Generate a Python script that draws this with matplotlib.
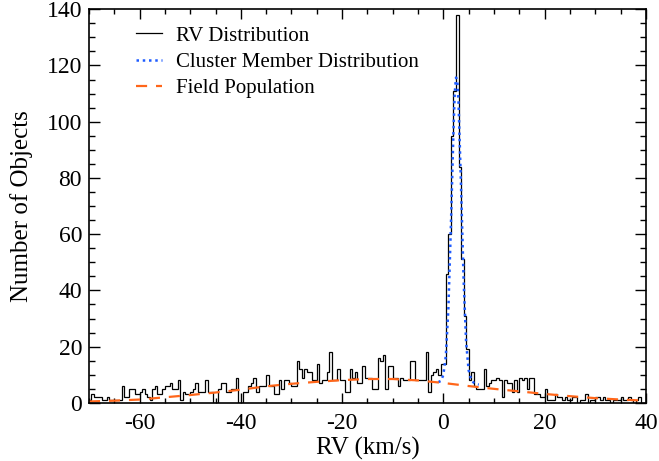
import numpy as np
import matplotlib
matplotlib.use('Agg')
import matplotlib.pyplot as plt
from matplotlib.ticker import MultipleLocator

plt.rcParams['font.family'] = ['Liberation Serif', 'DejaVu Serif']
plt.rcParams['axes.unicode_minus'] = False

# histogram: 0.5 km/s bins from -70 to 40
bin_lo, bin_hi, bin_w = -70.0, 40.0, 0.5
counts = [
    1, 3, 2, 2, 2, 1, 1, 2, 1, 1,        # -70 .. -65
    1, 1, 1, 6, 2, 2, 5, 5, 3, 3,        # -65 .. -60
    4, 5, 3, 2, 1, 5, 6, 3, 3, 5,        # -60 .. -55
    6, 6, 7, 5, 5, 8, 1, 4, 3, 3,        # -55 .. -50
    4, 5, 7, 4, 4, 4, 8, 4, 4, 0,        # -50 .. -45
    0, 5, 7, 7, 4, 4, 5, 5, 9, 0,        # -45 .. -40
    0, 4, 4, 6, 7, 9, 4, 6, 6, 6,        # -40 .. -35
    10, 6, 6, 3, 3, 8, 5, 8, 8, 7,       # -35 .. -30
    6, 6, 15, 12, 9, 12, 11, 11, 8, 8,   # -30 .. -25
    14, 7, 8, 8, 11, 18, 8, 8, 12, 8,    # -25 .. -20
    8, 4, 4, 12, 9, 11, 7, 7, 13, 9,     # -20 .. -15
    9, 9, 5, 5, 16, 15, 17, 5, 13, 13,   # -15 .. -10
    9, 9, 6, 9, 8, 8, 8, 15, 15, 8,      # -10 .. -5
    8, 8, 8, 18, 4, 10, 11, 12, 10, 14,  # -5 .. 0
    14, 46, 60, 95, 111, 138, 84, 51, 31, 19,  # 0 .. 5
    8, 11, 6, 5, 5, 5, 12, 6, 7, 8,      # 5 .. 10
    8, 9, 8, 2, 8, 7, 7, 4, 8, 4,        # 10 .. 15
    9, 8, 9, 5, 9, 9, 3, 3, 2, 2,        # 15 .. 20
    5, 1, 1, 1, 3, 2, 2, 1, 2, 1,        # 20 .. 25
    1, 2, 2, 0, 1, 1, 3, 0, 1, 1,        # 25 .. 30
    2, 2, 1, 2, 1, 1, 0, 1, 1, 1,        # 30 .. 35
    2, 1, 1, 2, 1, 0, 1, 2, 0, 0,        # 35 .. 40
]

# cluster member curve
clus_rv = [-1.0, -0.5, 0.0, 0.5, 1.0, 1.5, 2.0, 2.25, 2.5, 2.75, 3.0, 3.5, 4.0, 4.5, 5.0, 5.5, 6.0, 6.5, 7.0]
clus_n = [7.4, 7.8, 9.9, 16.8, 33.7, 63.1, 96.6, 110.0, 115.7, 115.0, 107.0, 76.9, 44.1, 21.6, 11.6, 8.2, 7.2, 6.7, 6.5]

# field population curve
field_rv = [-70, -65, -60, -55, -50, -45, -40, -35, -30, -25, -20, -15, -10, -5, 0, 5, 10, 15, 20, 25, 30, 35, 40]
field_n = [0.5, 0.8, 1.2, 2.0, 2.8, 3.7, 4.7, 5.9, 6.8, 7.5, 8.1, 8.5, 8.5, 8.0, 7.1, 6.0, 5.0, 4.1, 3.2, 2.4, 1.7, 1.2, 0.8]

edges = np.arange(bin_lo, bin_hi + bin_w / 2, bin_w)

fig = plt.figure(figsize=(6.59, 4.61), dpi=100)
ax = fig.add_axes([0.135, 0.126, 0.845, 0.854])

ax.stairs(counts, edges, baseline=None, color='black', lw=0.9, label='RV Distribution')
ax.plot(clus_rv, clus_n, color='#1f5cff', ls=(0, (1, 1.5)), lw=1.8, label='Cluster Member Distribution')
ax.plot(field_rv, field_n, color='#ff661a', ls=(0, (5, 4)), lw=1.6, label='Field Population')

ax.set_xlim(-70, 40)
ax.set_ylim(0, 140)
ax.xaxis.set_major_locator(MultipleLocator(20))
ax.xaxis.set_minor_locator(MultipleLocator(5))
ax.yaxis.set_major_locator(MultipleLocator(20))
ax.yaxis.set_minor_locator(MultipleLocator(5))
ax.tick_params(axis='both', which='both', direction='in', top=True, right=True, labelsize=17, width=1)
ax.tick_params(axis='x', which='major', length=7, pad=7)
ax.tick_params(axis='x', which='minor', length=3.5)
ax.tick_params(axis='y', which='major', length=8, pad=5)
ax.tick_params(axis='y', which='minor', length=4)
for s in ax.spines.values():
    s.set_linewidth(1.2)

ax.set_xlabel('RV (km/s)', fontsize=18, labelpad=2)
ax.set_ylabel('Number of Objects', fontsize=18, labelpad=10)

leg = ax.legend(loc='upper left', frameon=False, fontsize=15, handlelength=1.25,
                bbox_to_anchor=(0.05, 1.005), labelspacing=0.32, handletextpad=0.7)

fig.savefig('out.png', dpi=100)
